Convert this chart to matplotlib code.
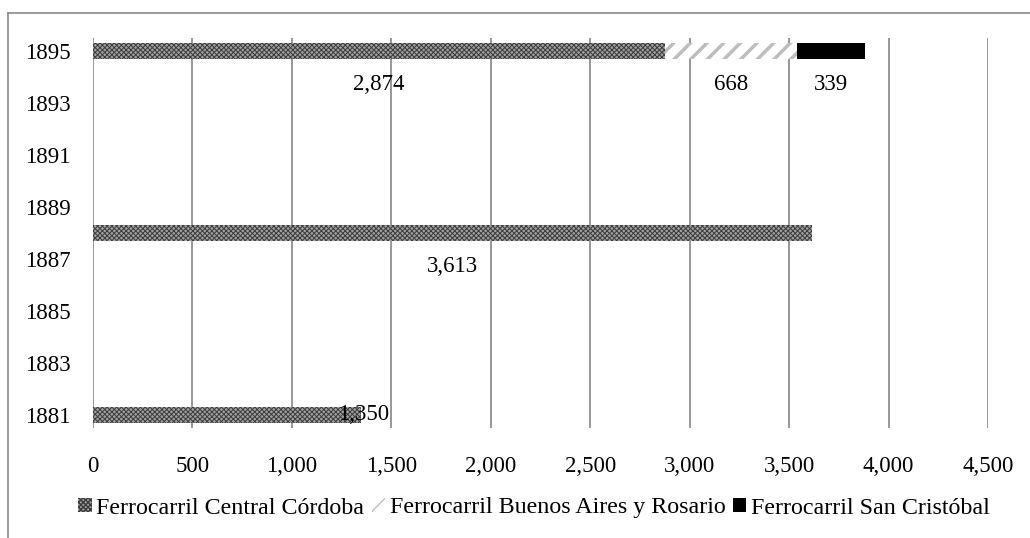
import matplotlib
matplotlib.use("Agg")
import matplotlib.pyplot as plt
from matplotlib.patches import Patch
from matplotlib.lines import Line2D

plt.rcParams['font.family'] = ['Liberation Serif', 'DejaVu Serif']

# Data
years = [1881, 1888, 1895]
series_names = ["Ferrocarril Central Córdoba",
                "Ferrocarril Buenos Aires y Rosario",
                "Ferrocarril San Cristóbal"]
central_cordoba = [1350, 3613, 2874]
buenos_aires_rosario = [0, 0, 668]
san_cristobal = [0, 0, 339]
year_ticks = list(range(1881, 1896, 2))
x_ticks = list(range(0, 4501, 500))

fig = plt.figure(figsize=(10.30, 5.38), dpi=100)
ax = fig.add_axes([93/1030, 1-428/538, (988-93)/1030, (428-38)/538])

bar_h = 0.58

CHECK = dict(facecolor='#a0a0a0', edgecolor='#3c3c3c', hatch='xxxxxxx')
STRIPE = dict(facecolor='white', edgecolor='#bdbdbd', hatch='//')


def set_hatch_lw(patches, lw):
    for p in patches:
        if hasattr(p, 'set_hatch_linewidth'):
            p.set_hatch_linewidth(lw)


# Series 1: dense checker texture
with plt.rc_context({'hatch.linewidth': 0.7}):
    b1 = ax.barh(years, central_cordoba, height=bar_h, linewidth=0, zorder=3, **CHECK)
set_hatch_lw(b1, 0.7)

# Series 2: light grey diagonal stripes
left2 = central_cordoba
with plt.rc_context({'hatch.linewidth': 2.5}):
    b2 = ax.barh(years, buenos_aires_rosario, left=left2, height=bar_h,
                 linewidth=0, zorder=3, **STRIPE)
set_hatch_lw(b2, 2.5)

# Series 3: solid black
left3 = [a + b for a, b in zip(central_cordoba, buenos_aires_rosario)]
b3 = ax.barh(years, san_cristobal, left=left3, height=bar_h,
             color='black', linewidth=0, zorder=3)

fs = 16.5


# Data labels beneath the bars, centred on each segment
def label(x, y, v, dy=-33):
    ax.annotate(f"{v:,}", xy=(x, y), xytext=(0, dy), textcoords='offset pixels',
                ha='center', va='center', fontsize=fs, zorder=5)


for y, v in zip(years, central_cordoba):
    if y == 1881:
        label(v + 10, y, v, dy=0)
    else:
        label(v / 2, y, v)
for y, l, v in zip(years, left2, buenos_aires_rosario):
    if v:
        label(l + v / 2, y, v)
for y, l, v in zip(years, left3, san_cristobal):
    if v:
        label(l + v / 2, y, v)

ax.set_xlim(0, 4500)
ax.set_ylim(1880.5, 1895.5)
ax.set_xticks(x_ticks)
ax.set_xticklabels([f"{t:,}" for t in x_ticks], fontsize=fs)
ax.set_yticks(year_ticks)
ax.set_yticklabels([str(t) for t in year_ticks], fontsize=fs)
ax.tick_params(axis='both', length=0)
ax.tick_params(axis='y', pad=16)
ax.tick_params(axis='x', pad=20)
ax.grid(axis='x', color='#858585', linewidth=1.2, zorder=1)
for s in ax.spines.values():
    s.set_visible(False)

# Outer frame
fig.add_artist(Line2D([8/1030, 8/1030], [0, 1-13/538], color='#8a8a8a', lw=1.2))
fig.add_artist(Line2D([8/1030, 1], [1-13/538, 1-13/538], color='#8a8a8a', lw=1.2))

with plt.rc_context({'hatch.linewidth': 0.7}):
    h1 = Patch(linewidth=0, **CHECK)
set_hatch_lw([h1], 0.7)
with plt.rc_context({'hatch.linewidth': 2.5}):
    h2 = Patch(linewidth=0, **STRIPE)
set_hatch_lw([h2], 2.5)
h3 = Patch(facecolor='black', linewidth=0)

fig.legend([h1, h2, h3], series_names, loc='center', bbox_to_anchor=(534/1030, 1-508/538),
           ncol=3, frameon=False, fontsize=17.3, handlelength=0.55, handleheight=0.55,
           handletextpad=0.2, columnspacing=0.3)

fig.savefig("out.png", dpi=100, facecolor='white')
